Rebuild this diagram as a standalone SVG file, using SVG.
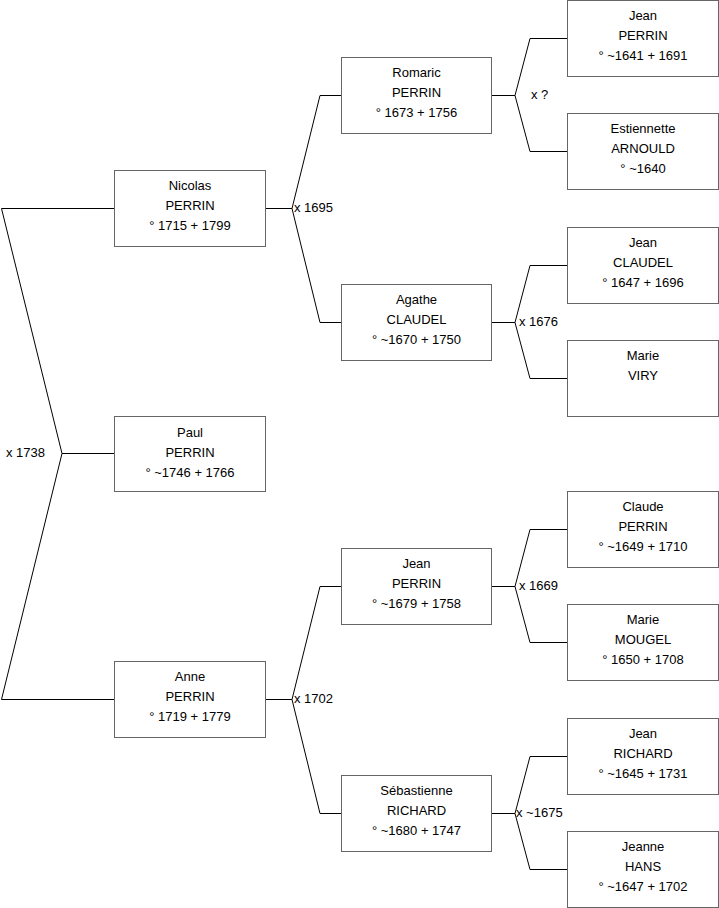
<svg xmlns="http://www.w3.org/2000/svg" width="719" height="908" viewBox="0 0 719 908">
<style>
.b{fill:#fff;stroke:#666;stroke-width:1}
.t{font-family:"Liberation Sans",Arial,sans-serif;font-size:13px;fill:#000;text-anchor:middle}
.l{font-family:"Liberation Sans",Arial,sans-serif;font-size:13px;fill:#000}
.c{fill:none;stroke:#000;stroke-width:1}
</style>
<rect width="719" height="908" fill="#fff"/>
<g id="connectors">
<path class="c" d="M114,208.5H1.5L62,453.5L1.5,699.5H114M62,453.5H114"/>
<path class="c" d="M265,208.5H292L320,95.5H341M292,208.5L320,322.5H341"/>
<path class="c" d="M265,699.5H292L320,586.5H341M292,699.5L320,813.5H341"/>
<path class="c" d="M491,95.5H515L530,38.5H567M515,95.5L530,151.5H567"/>
<path class="c" d="M491,322.5H515L530,265.5H567M515,322.5L530,378.5H567"/>
<path class="c" d="M491,586.5H515L530,529.5H567M515,586.5L530,642.5H567"/>
<path class="c" d="M491,813.5H515L530,756.5H567M515,813.5L530,869.5H567"/>
<text class="l" x="6" y="457">x 1738</text>
<text class="l" x="294" y="212">x 1695</text>
<text class="l" x="294" y="703">x 1702</text>
<text class="l" x="531" y="99">x ?</text>
<text class="l" x="519" y="326">x 1676</text>
<text class="l" x="519" y="590">x 1669</text>
<text class="l" x="516" y="817">x ~1675</text>
</g>
<g id="nicolas"><rect class="b" x="114.5" y="170.5" width="151" height="76"/><text class="t" x="190" y="190">Nicolas</text><text class="t" x="190" y="210">PERRIN</text><text class="t" x="190" y="230">° 1715 + 1799</text></g>
<g id="paul"><rect class="b" x="114.5" y="416.5" width="151" height="75"/><text class="t" x="190" y="437">Paul</text><text class="t" x="190" y="457">PERRIN</text><text class="t" x="190" y="477">° ~1746 + 1766</text></g>
<g id="anne"><rect class="b" x="114.5" y="661.5" width="151" height="76"/><text class="t" x="190" y="681">Anne</text><text class="t" x="190" y="701">PERRIN</text><text class="t" x="190" y="721">° 1719 + 1779</text></g>
<g id="romaric"><rect class="b" x="341.5" y="57.5" width="150" height="76"/><text class="t" x="416.5" y="77">Romaric</text><text class="t" x="416.5" y="97">PERRIN</text><text class="t" x="416.5" y="117">° 1673 + 1756</text></g>
<g id="agathe"><rect class="b" x="341.5" y="284.5" width="150" height="76"/><text class="t" x="416.5" y="304">Agathe</text><text class="t" x="416.5" y="324">CLAUDEL</text><text class="t" x="416.5" y="344">° ~1670 + 1750</text></g>
<g id="jean2"><rect class="b" x="341.5" y="548.5" width="150" height="76"/><text class="t" x="416.5" y="568">Jean</text><text class="t" x="416.5" y="588">PERRIN</text><text class="t" x="416.5" y="608">° ~1679 + 1758</text></g>
<g id="sebastienne"><rect class="b" x="341.5" y="775.5" width="150" height="76"/><text class="t" x="416.5" y="795">Sébastienne</text><text class="t" x="416.5" y="815">RICHARD</text><text class="t" x="416.5" y="835">° ~1680 + 1747</text></g>
<g id="jean1"><rect class="b" x="567.5" y="0.5" width="151" height="76"/><text class="t" x="643" y="20">Jean</text><text class="t" x="643" y="40">PERRIN</text><text class="t" x="643" y="60">° ~1641 + 1691</text></g>
<g id="estiennette"><rect class="b" x="567.5" y="113.5" width="151" height="76"/><text class="t" x="643" y="133">Estiennette</text><text class="t" x="643" y="153">ARNOULD</text><text class="t" x="643" y="173">° ~1640</text></g>
<g id="jeanclaudel"><rect class="b" x="567.5" y="227.5" width="151" height="76"/><text class="t" x="643" y="247">Jean</text><text class="t" x="643" y="267">CLAUDEL</text><text class="t" x="643" y="287">° 1647 + 1696</text></g>
<g id="marieviry"><rect class="b" x="567.5" y="340.5" width="151" height="76"/><text class="t" x="643" y="360">Marie</text><text class="t" x="643" y="380">VIRY</text></g>
<g id="claude"><rect class="b" x="567.5" y="491.5" width="151" height="76"/><text class="t" x="643" y="511">Claude</text><text class="t" x="643" y="531">PERRIN</text><text class="t" x="643" y="551">° ~1649 + 1710</text></g>
<g id="mariemougel"><rect class="b" x="567.5" y="604.5" width="151" height="76"/><text class="t" x="643" y="624">Marie</text><text class="t" x="643" y="644">MOUGEL</text><text class="t" x="643" y="664">° 1650 + 1708</text></g>
<g id="jeanrichard"><rect class="b" x="567.5" y="718.5" width="151" height="76"/><text class="t" x="643" y="738">Jean</text><text class="t" x="643" y="758">RICHARD</text><text class="t" x="643" y="778">° ~1645 + 1731</text></g>
<g id="jeanne"><rect class="b" x="567.5" y="831.5" width="151" height="76"/><text class="t" x="643" y="851">Jeanne</text><text class="t" x="643" y="871">HANS</text><text class="t" x="643" y="891">° ~1647 + 1702</text></g>
</svg>
